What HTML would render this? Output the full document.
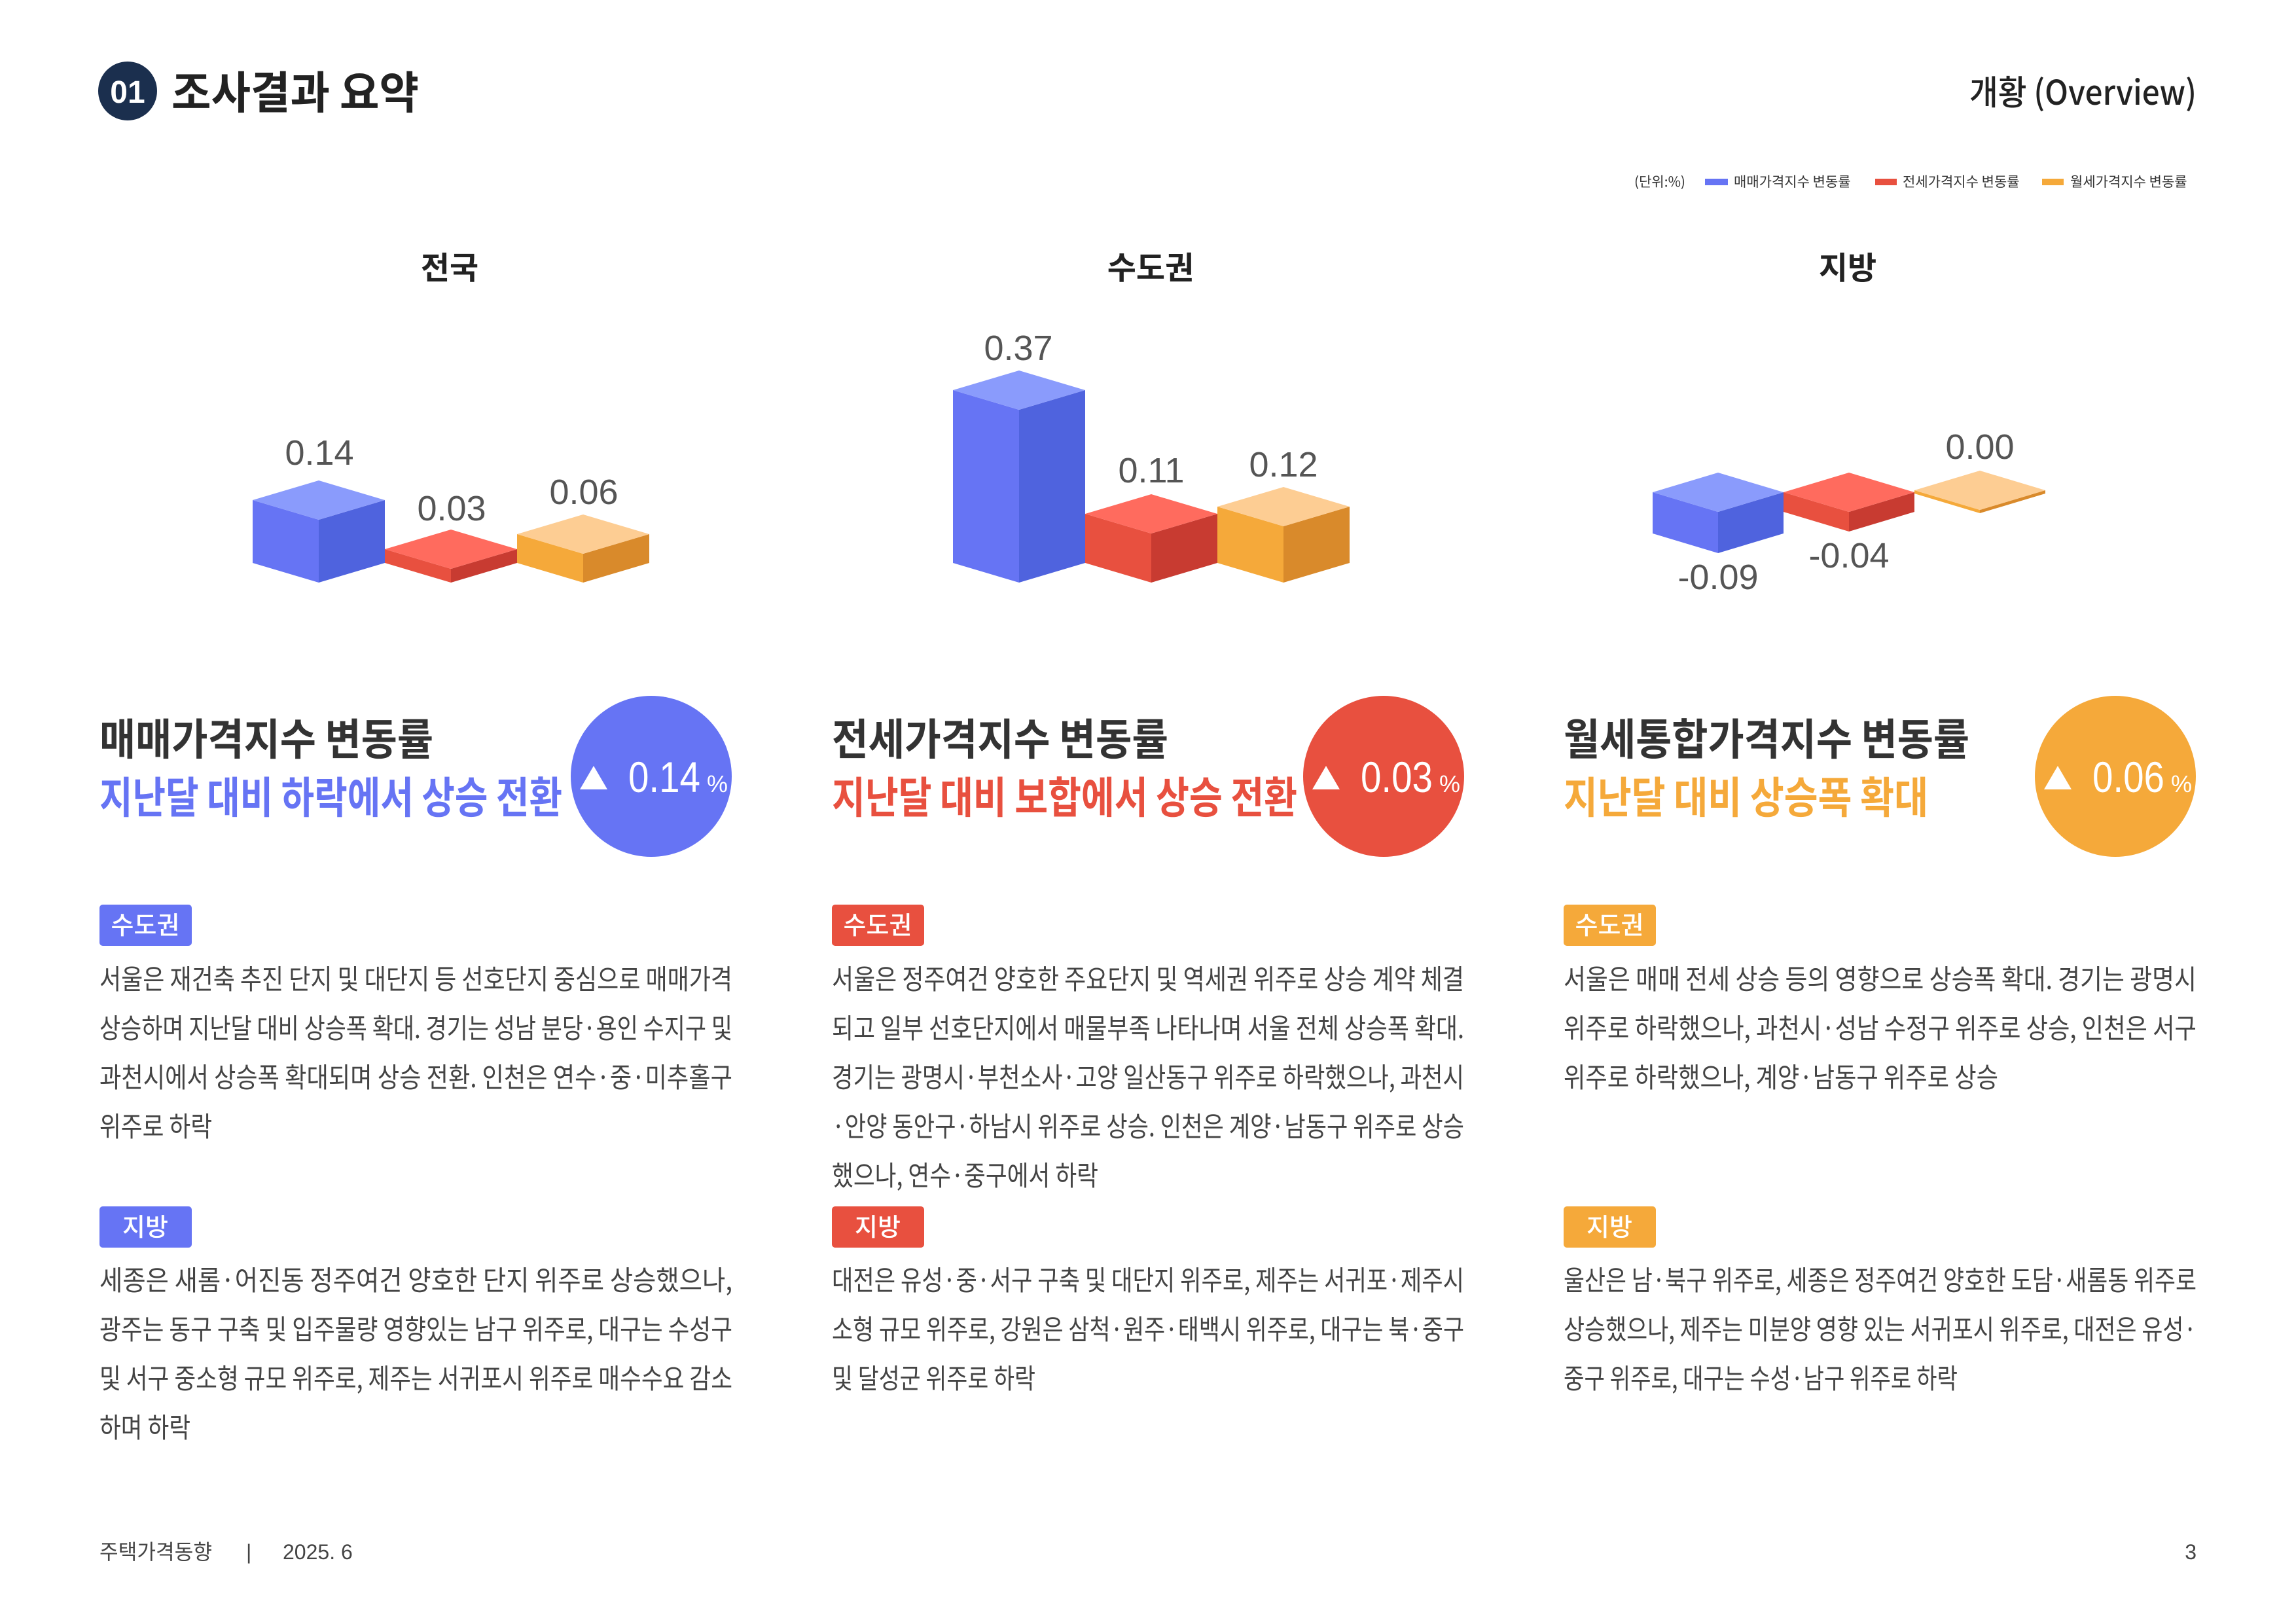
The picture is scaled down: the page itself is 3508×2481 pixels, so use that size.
<!DOCTYPE html>
<html><head><meta charset="utf-8"><style>
html,body{margin:0;padding:0;background:#fff;}
svg{display:block;}
text{font-family:"Liberation Sans","Noto Sans CJK KR",sans-serif;}
.b{font-family:"Noto Sans CJK KR","Liberation Sans",sans-serif;}
.body{font-family:"Noto Sans CJK KR",sans-serif;font-size:42px;fill:#444;}
.num{font-family:"Liberation Sans",sans-serif;font-size:54px;fill:#555;text-anchor:middle;}
</style></head><body>
<svg width="3508" height="2481" viewBox="0 0 3508 2481" xmlns="http://www.w3.org/2000/svg">
<rect width="3508" height="2481" fill="#fff"/>
<!-- header -->
<circle cx="195" cy="139" r="45" fill="#1b2f4e"/>
<text x="195" y="157" text-anchor="middle" font-size="48" font-weight="bold" fill="#fff">01</text>
<text class="b" x="262" y="166" font-size="68" font-weight="bold" fill="#222" textLength="378" lengthAdjust="spacingAndGlyphs">조사결과 요약</text>
<text class="b" x="3009" y="160" font-size="52" font-weight="500" fill="#222" textLength="347" lengthAdjust="spacingAndGlyphs">개황 (Overview)</text>
<!-- legend -->
<g class="b" font-size="21" fill="#333">
<text class="b" x="2497" y="285">(단위:%)</text>
<rect x="2605" y="273" width="35" height="10" fill="#6674f4"/>
<text class="b" x="2649" y="285">매매가격지수 변동률</text>
<rect x="2865" y="273" width="33" height="10" fill="#e8503f"/>
<text class="b" x="2907" y="285">전세가격지수 변동률</text>
<rect x="3120" y="273" width="33" height="10" fill="#f5a93a"/>
<text class="b" x="3163" y="285">월세가격지수 변동률</text>
</g>
<!-- chart titles -->
<g class="b" font-size="48" font-weight="bold" fill="#222" text-anchor="middle">
<text class="b" x="687" y="426">전국</text>
<text class="b" x="1758" y="426">수도권</text>
<text class="b" x="2823" y="426">지방</text>
</g>
<!-- chart 1 -->
<g>
<polygon points="386,764 487,794 487,890 386,860" fill="#6674f4"/>
<polygon points="487,794 588,764 588,860 487,890" fill="#4f63de"/>
<polygon points="386,764 487,734 588,764 487,794" fill="#8a9bfc"/>
<polygon points="588,839 689,869 689,890 588,860" fill="#e8503f"/>
<polygon points="689,869 790,839 790,860 689,890" fill="#c83b31"/>
<polygon points="588,839 689,809 790,839 689,869" fill="#ff6b5e"/>
<polygon points="790,816 891,846 891,890 790,860" fill="#f5a93a"/>
<polygon points="891,846 992,816 992,860 891,890" fill="#d98a2b"/>
<polygon points="790,816 891,786 992,816 891,846" fill="#fdcd93"/>
<text class="num" x="488" y="710">0.14</text>
<text class="num" x="690" y="795">0.03</text>
<text class="num" x="892" y="770">0.06</text>
</g>
<!-- chart 2 -->
<g transform="translate(-5,0)">
<polygon points="1461,596 1562,626 1562,890 1461,860" fill="#6674f4"/>
<polygon points="1562,626 1663,596 1663,860 1562,890" fill="#4f63de"/>
<polygon points="1461,596 1562,566 1663,596 1562,626" fill="#8a9bfc"/>
<polygon points="1663,785 1764,815 1764,890 1663,860" fill="#e8503f"/>
<polygon points="1764,815 1865,785 1865,860 1764,890" fill="#c83b31"/>
<polygon points="1663,785 1764,755 1865,785 1764,815" fill="#ff6b5e"/>
<polygon points="1865,774 1966,804 1966,890 1865,860" fill="#f5a93a"/>
<polygon points="1966,804 2067,774 2067,860 1966,890" fill="#d98a2b"/>
<polygon points="1865,774 1966,744 2067,774 1966,804" fill="#fdcd93"/>
<text class="num" x="1561" y="550">0.37</text>
<text class="num" x="1764" y="737">0.11</text>
<text class="num" x="1966" y="728">0.12</text>
</g>
<!-- chart 3 -->
<g>
<polygon points="2525,752 2625,782 2625,845 2525,815" fill="#6674f4"/>
<polygon points="2625,782 2725,752 2725,815 2625,845" fill="#4f63de"/>
<polygon points="2525,752 2625,722 2725,752 2625,782" fill="#8a9bfc"/>
<polygon points="2725,752 2825,782 2825,812 2725,782" fill="#e8503f"/>
<polygon points="2825,782 2925,752 2925,782 2825,812" fill="#c83b31"/>
<polygon points="2725,752 2825,722 2925,752 2825,782" fill="#ff6b5e"/>
<polygon points="2925,749 3025,779 3025,784 2925,754" fill="#f5a93a"/>
<polygon points="3025,779 3125,749 3125,754 3025,784" fill="#d98a2b"/>
<polygon points="2925,749 3025,719 3125,749 3025,779" fill="#fdcd93"/>
<text class="num" x="2625" y="900">-0.09</text>
<text class="num" x="2825" y="867">-0.04</text>
<text class="num" x="3025" y="701">0.00</text>
</g>
<!-- headings -->
<g class="b" font-size="66" font-weight="bold">
<text class="b" x="152" y="1153" fill="#333" textLength="510" lengthAdjust="spacingAndGlyphs">매매가격지수 변동률</text>
<text class="b" x="152" y="1242" fill="#6674f4" textLength="707" lengthAdjust="spacingAndGlyphs">지난달 대비 하락에서 상승 전환</text>
<text class="b" x="1271" y="1153" fill="#333" textLength="514" lengthAdjust="spacingAndGlyphs">전세가격지수 변동률</text>
<text class="b" x="1271" y="1242" fill="#e8503f" textLength="711" lengthAdjust="spacingAndGlyphs">지난달 대비 보합에서 상승 전환</text>
<text class="b" x="2389" y="1153" fill="#333" textLength="620" lengthAdjust="spacingAndGlyphs">월세통합가격지수 변동률</text>
<text class="b" x="2389" y="1242" fill="#f5a93a" textLength="557" lengthAdjust="spacingAndGlyphs">지난달 대비 상승폭 확대</text>
</g>
<!-- circles -->
<circle cx="995" cy="1186" r="123" fill="#6674f4"/>
<circle cx="2114" cy="1186" r="123" fill="#e8503f"/>
<circle cx="3232" cy="1186" r="123" fill="#f5a93a"/>
<g fill="#fff">
<polygon points="886,1206 928,1206 907,1170"/>
<text x="960" y="1210" font-size="66" textLength="110" lengthAdjust="spacingAndGlyphs">0.14</text>
<text x="1080" y="1210" font-size="36">%</text>
<polygon points="2005,1206 2047,1206 2026,1170"/>
<text x="2079" y="1210" font-size="66" textLength="110" lengthAdjust="spacingAndGlyphs">0.03</text>
<text x="2199" y="1210" font-size="36">%</text>
<polygon points="3123,1206 3165,1206 3144,1170"/>
<text x="3197" y="1210" font-size="66" textLength="110" lengthAdjust="spacingAndGlyphs">0.06</text>
<text x="3317" y="1210" font-size="36">%</text>
</g>
<!-- tags -->
<rect x="152" y="1382" width="141" height="63" rx="5" fill="#6674f4"/>
<rect x="1271" y="1382" width="141" height="63" rx="5" fill="#e8503f"/>
<rect x="2389" y="1382" width="141" height="63" rx="5" fill="#f5a93a"/>
<rect x="152" y="1843" width="141" height="63" rx="5" fill="#6674f4"/>
<rect x="1271" y="1843" width="141" height="63" rx="5" fill="#e8503f"/>
<rect x="2389" y="1843" width="141" height="63" rx="5" fill="#f5a93a"/>
<g class="b" font-size="38" font-weight="500" fill="#fff" text-anchor="middle">
<text class="b" x="222" y="1427">수도권</text>
<text class="b" x="1341" y="1427">수도권</text>
<text class="b" x="2459" y="1427">수도권</text>
<text class="b" x="222" y="1888">지방</text>
<text class="b" x="1341" y="1888">지방</text>
<text class="b" x="2459" y="1888">지방</text>
</g>
<!-- body col1 -->
<g class="body">
<text class="body" x="152" y="1511" textLength="967" lengthAdjust="spacingAndGlyphs">서울은 재건축 추진 단지 및 대단지 등 선호단지 중심으로 매매가격</text>
<text class="body" x="152" y="1586" textLength="967" lengthAdjust="spacingAndGlyphs">상승하며 지난달 대비 상승폭 확대. 경기는 성남 분당·용인 수지구 및</text>
<text class="body" x="152" y="1661" textLength="967" lengthAdjust="spacingAndGlyphs">과천시에서 상승폭 확대되며 상승 전환. 인천은 연수·중·미추홀구</text>
<text class="body" x="152" y="1736" textLength="172" lengthAdjust="spacingAndGlyphs">위주로 하락</text>
<text class="body" x="152" y="1971" textLength="967" lengthAdjust="spacingAndGlyphs">세종은 새롬·어진동 정주여건 양호한 단지 위주로 상승했으나,</text>
<text class="body" x="152" y="2046" textLength="967" lengthAdjust="spacingAndGlyphs">광주는 동구 구축 및 입주물량 영향있는 남구 위주로, 대구는 수성구</text>
<text class="body" x="152" y="2121" textLength="967" lengthAdjust="spacingAndGlyphs">및 서구 중소형 규모 위주로, 제주는 서귀포시 위주로 매수수요 감소</text>
<text class="body" x="152" y="2196" textLength="139" lengthAdjust="spacingAndGlyphs">하며 하락</text>
<!-- col2 -->
<text class="body" x="1271" y="1511" textLength="966" lengthAdjust="spacingAndGlyphs">서울은 정주여건 양호한 주요단지 및 역세권 위주로 상승 계약 체결</text>
<text class="body" x="1271" y="1586" textLength="966" lengthAdjust="spacingAndGlyphs">되고 일부 선호단지에서 매물부족 나타나며 서울 전체 상승폭 확대.</text>
<text class="body" x="1271" y="1661" textLength="966" lengthAdjust="spacingAndGlyphs">경기는 광명시·부천소사·고양 일산동구 위주로 하락했으나, 과천시</text>
<text class="body" x="1271" y="1736" textLength="966" lengthAdjust="spacingAndGlyphs">·안양 동안구·하남시 위주로 상승. 인천은 계양·남동구 위주로 상승</text>
<text class="body" x="1271" y="1811" textLength="407" lengthAdjust="spacingAndGlyphs">했으나, 연수·중구에서 하락</text>
<text class="body" x="1271" y="1971" textLength="966" lengthAdjust="spacingAndGlyphs">대전은 유성·중·서구 구축 및 대단지 위주로, 제주는 서귀포·제주시</text>
<text class="body" x="1271" y="2046" textLength="966" lengthAdjust="spacingAndGlyphs">소형 규모 위주로, 강원은 삼척·원주·태백시 위주로, 대구는 북·중구</text>
<text class="body" x="1271" y="2121" textLength="311" lengthAdjust="spacingAndGlyphs">및 달성군 위주로 하락</text>
<!-- col3 -->
<text class="body" x="2389" y="1511" textLength="967" lengthAdjust="spacingAndGlyphs">서울은 매매 전세 상승 등의 영향으로 상승폭 확대. 경기는 광명시</text>
<text class="body" x="2389" y="1586" textLength="967" lengthAdjust="spacingAndGlyphs">위주로 하락했으나, 과천시·성남 수정구 위주로 상승, 인천은 서구</text>
<text class="body" x="2389" y="1661" textLength="664" lengthAdjust="spacingAndGlyphs">위주로 하락했으나, 계양·남동구 위주로 상승</text>
<text class="body" x="2389" y="1971" textLength="967" lengthAdjust="spacingAndGlyphs">울산은 남·북구 위주로, 세종은 정주여건 양호한 도담·새롬동 위주로</text>
<text class="body" x="2389" y="2046" textLength="967" lengthAdjust="spacingAndGlyphs">상승했으나, 제주는 미분양 영향 있는 서귀포시 위주로, 대전은 유성·</text>
<text class="body" x="2389" y="2121" textLength="602" lengthAdjust="spacingAndGlyphs">중구 위주로, 대구는 수성·남구 위주로 하락</text>
</g>
<!-- footer -->
<g class="b" font-size="32" fill="#444">
<text class="b" x="152" y="2382" textLength="172" lengthAdjust="spacingAndGlyphs">주택가격동향</text>
<text x="376" y="2382">|</text>
<text x="432" y="2382">2025. 6</text>
<text x="3356" y="2382" text-anchor="end">3</text>
</g>
</svg>
</body></html>
